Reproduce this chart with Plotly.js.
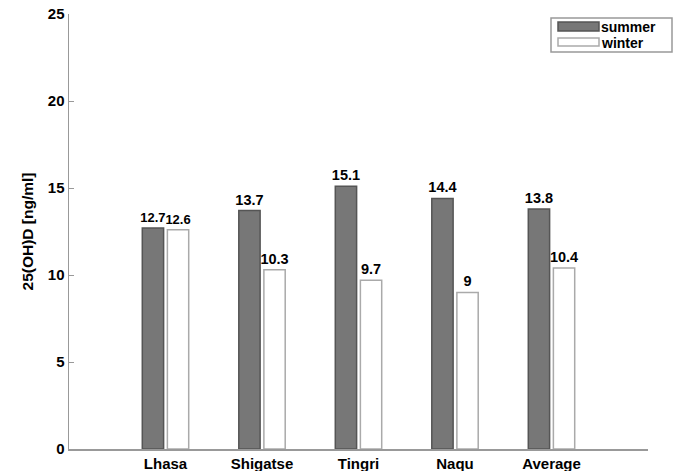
<!DOCTYPE html>
<html><head><meta charset="utf-8">
<script src="https://cdn.plot.ly/plotly-3.0.1.min.js"></script>
<style>body{margin:0;padding:0;background:#fff}#chart{width:676px;height:471px}</style>
</head><body><div id="chart"></div>
<script>
var categories = ["Lhasa", "Shigatse", "Tingri", "Naqu", "Average"];
var seriesNames = ["summer", "winter"];
var summer = [12.7, 13.7, 15.1, 14.4, 13.8];
var winter = [12.6, 10.3, 9.7, 9, 10.4];
var summerLabels = ["12.7", "13.7", "15.1", "14.4", "13.8"];
var winterLabels = ["12.6", "10.3", "9.7", "9", "10.4"];
var yTicks = [0, 5, 10, 15, 20, 25];

var FF = "Liberation Sans, Arial, sans-serif";
var fills = ["#777777", "#ffffff"];
var lines = ["#555555", "#aaaaaa"];
var tf = {family: FF, size: 15, color: "#000", weight: "bold"};
// first group's labels are tight side by side, so slightly smaller
var labelSizes = categories.map(function (c, i) { return i === 0 ? 13 : 14.5; });
var bf = {family: FF, size: labelSizes, color: "#000", weight: "bold"};
var traces = [
  {type: "bar", name: seriesNames[0], x: categories, y: summer, text: summerLabels,
   textposition: "outside", cliponaxis: false, constraintext: "none", textfont: bf,
   marker: {color: fills[0], line: {color: lines[0], width: 1.5}}},
  {type: "bar", name: seriesNames[1], x: categories, y: winter, text: winterLabels,
   textposition: "outside", cliponaxis: false, constraintext: "none", textfont: bf,
   marker: {color: fills[1], line: {color: lines[1], width: 1.5}}}
];

// manual legend (paper coords; plot area 579x435 px)
function px(x) { return (x - 69) / 579; }
function py(y) { return (449 - y) / 435; }
var shapes = [
  {type: "rect", xref: "paper", yref: "paper", x0: px(551), x1: px(672), y0: py(52), y1: py(18),
   line: {color: "#999", width: 1.5}, fillcolor: "#fff"}
];
var annotations = [];
var swY = [[22, 31], [38, 46]];
var txtY = [26.5, 43];
for (var i = 0; i < seriesNames.length; i++) {
  shapes.push({type: "rect", xref: "paper", yref: "paper", x0: px(558), x1: px(599),
    y0: py(swY[i][1]), y1: py(swY[i][0]), fillcolor: fills[i], line: {color: lines[i], width: 1.5}});
  annotations.push({xref: "paper", yref: "paper", x: px(600), y: py(txtY[i]), xanchor: "left",
    yanchor: "middle", text: seriesNames[i], showarrow: false, borderpad: 0,
    font: {family: FF, size: 14, color: "#000", weight: "bold"}});
}

var layout = {
  width: 676, height: 471,
  margin: {l: 69, r: 28, t: 14, b: 22},
  paper_bgcolor: "#fff", plot_bgcolor: "#fff",
  barmode: "group", bargap: 0.48, bargroupgap: 0.15,
  font: {family: FF, color: "#000"},
  showlegend: false,
  shapes: shapes, annotations: annotations,
  xaxis: {type: "category", range: [-1, 5], showgrid: false, zeroline: false,
    showline: true, linecolor: "#999", linewidth: 1.5, ticks: "",
    tickfont: tf, automargin: false, fixedrange: true},
  yaxis: {range: [0, 25], tickvals: yTicks, showgrid: false, zeroline: false,
    showline: true, linecolor: "#999", linewidth: 1.5,
    ticks: "inside", ticklen: 5, tickcolor: "#999",
    tickfont: tf,
    title: {text: "25(OH)D [ng/ml]", standoff: 10,
      font: {family: FF, size: 15.5, color: "#000", weight: "bold"}},
    automargin: false, fixedrange: true}
};
Plotly.newPlot("chart", traces, layout, {displayModeBar: false, staticPlot: true});
</script></body></html>
